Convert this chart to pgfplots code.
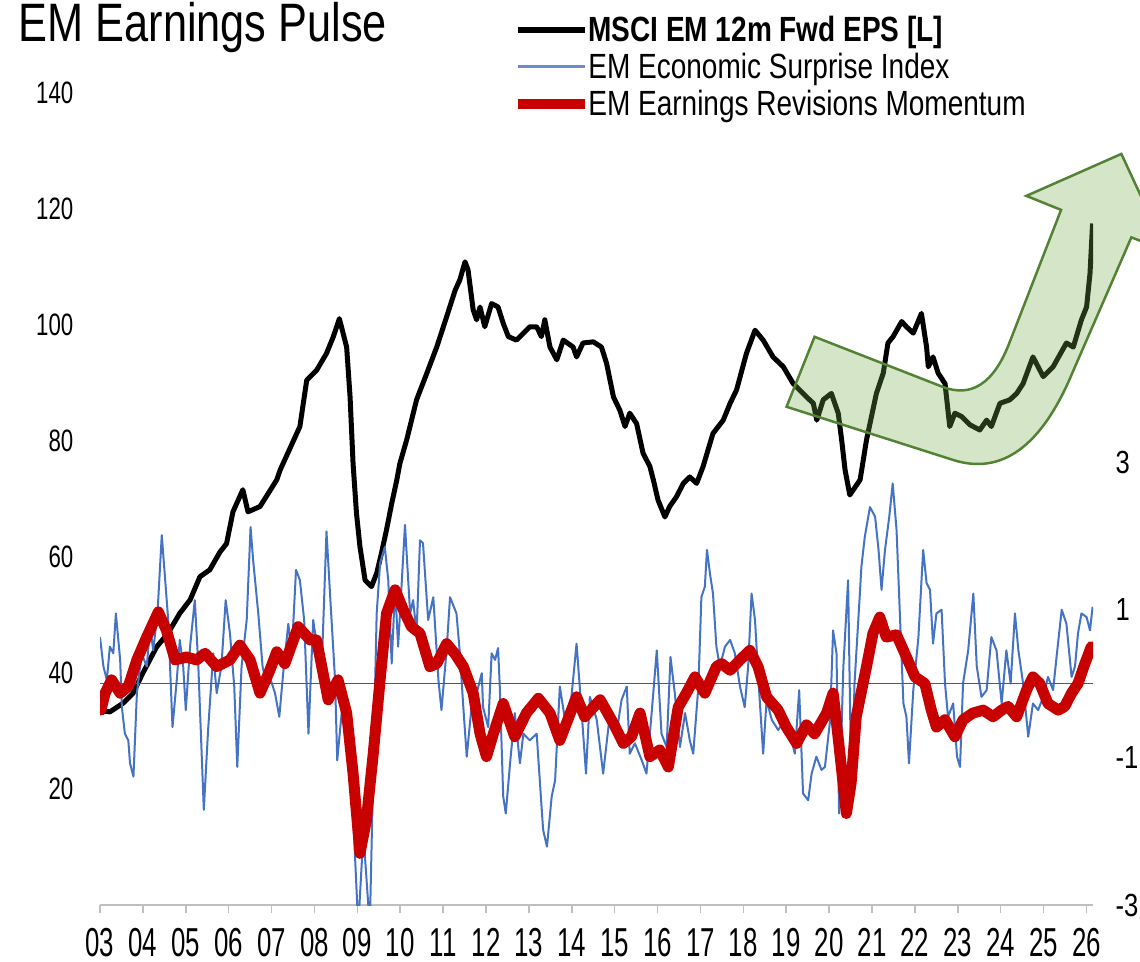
\documentclass[border=0pt]{standalone}
\usepackage{fontspec}
\setmainfont{Liberation Sans}
\newfontfamily\titlefont[FakeStretch=0.8]{Liberation Sans}
\newfontfamily\legfont[FakeStretch=0.8]{Liberation Sans}
\newfontfamily\ytfont[FakeStretch=0.72]{Liberation Sans}
\newfontfamily\xtfont[FakeStretch=0.64]{Liberation Sans}
\newfontfamily\rtfont[FakeStretch=0.8]{Liberation Sans}
\usepackage{pgfplots}
\pgfplotsset{compat=1.18}
\definecolor{surpblue}{RGB}{68,114,196}
\definecolor{revred}{RGB}{200,0,0}
\definecolor{axgrey}{RGB}{191,191,191}
\definecolor{zerogrey}{RGB}{89,89,89}
\definecolor{arrowfill}{RGB}{112,173,71}
\definecolor{arrowdraw}{RGB}{84,130,53}

\pgfplotstableread{
x y
2003.00 33.5
2003.23 33.3
2003.54 34.8
2003.77 36.5
2004.00 40.0
2004.32 44.5
2004.59 46.9
2004.86 50.3
2005.10 52.6
2005.33 56.6
2005.56 57.8
2005.80 60.9
2005.95 62.3
2006.10 67.8
2006.33 71.6
2006.45 67.8
2006.73 68.7
2007.12 73.3
2007.20 75.0
2007.66 82.5
2007.82 90.5
2008.05 92.2
2008.28 95.1
2008.44 98.0
2008.58 101.1
2008.75 96.2
2008.83 87.6
2008.90 76.1
2008.98 67.5
2009.06 61.8
2009.18 56.0
2009.33 54.9
2009.45 57.2
2009.56 60.6
2009.68 64.7
2009.80 69.2
2009.92 73.3
2009.99 76.1
2010.15 80.2
2010.38 87.1
2010.62 91.7
2010.85 96.2
2011.08 101.4
2011.28 106.0
2011.39 107.8
2011.51 110.9
2011.58 109.5
2011.70 102.6
2011.78 100.9
2011.86 103.1
2011.97 99.7
2012.13 103.7
2012.28 103.1
2012.40 100.3
2012.52 98.0
2012.71 97.4
2013.02 99.7
2013.18 99.7
2013.29 98.0
2013.37 100.9
2013.49 96.2
2013.65 94.0
2013.80 97.4
2014.03 96.2
2014.11 94.5
2014.26 96.9
2014.50 97.1
2014.69 96.2
2014.81 93.4
2014.97 87.6
2015.12 85.3
2015.24 82.5
2015.35 84.8
2015.51 83.0
2015.66 77.9
2015.82 75.6
2015.90 73.3
2016.01 69.8
2016.17 66.9
2016.28 68.7
2016.44 70.4
2016.60 72.7
2016.75 73.8
2016.91 72.7
2017.06 75.6
2017.29 81.3
2017.53 83.6
2017.69 86.5
2017.84 88.8
2018.07 95.1
2018.27 99.1
2018.46 97.4
2018.69 94.5
2018.93 92.8
2019.16 89.9
2019.47 87.6
2019.63 86.5
2019.71 83.6
2019.86 87.1
2020.05 88.2
2020.21 84.8
2020.29 80.2
2020.37 75.0
2020.48 70.7
2020.72 73.3
2020.87 80.2
2021.10 88.2
2021.26 91.7
2021.37 96.9
2021.49 98.0
2021.69 100.6
2021.80 99.7
2021.96 98.6
2022.15 102.0
2022.27 96.2
2022.31 92.8
2022.42 94.5
2022.54 91.7
2022.70 89.9
2022.81 82.5
2022.93 84.8
2023.09 84.2
2023.28 82.8
2023.51 81.9
2023.67 83.6
2023.78 82.5
2023.98 86.5
2024.21 87.1
2024.37 88.2
2024.52 89.9
2024.75 94.5
2024.99 91.1
2025.22 92.8
2025.53 96.9
2025.69 96.2
2025.88 100.9
2026.00 103.1
2026.08 108.9
2026.14 117.5
}\epsdata

\pgfplotstableread{
x y
2003.00 0.63
2003.08 0.23
2003.16 0.05
2003.23 0.50
2003.31 0.41
2003.37 0.95
2003.47 0.32
2003.51 -0.32
2003.58 -0.68
2003.66 -0.77
2003.70 -1.08
2003.78 -1.26
2003.86 -0.13
2003.97 0.41
2004.09 0.23
2004.17 0.77
2004.24 0.45
2004.34 0.95
2004.44 2.01
2004.52 1.40
2004.59 0.86
2004.69 -0.59
2004.79 0.05
2004.86 0.59
2004.94 0.23
2005.00 -0.36
2005.10 0.50
2005.21 1.13
2005.29 0.27
2005.42 -1.71
2005.52 -0.63
2005.64 0.41
2005.72 -0.13
2005.83 0.23
2005.93 1.13
2006.03 0.68
2006.13 -0.04
2006.20 -1.13
2006.30 0.23
2006.42 0.86
2006.51 2.12
2006.57 1.67
2006.69 0.95
2006.79 0.23
2006.89 -0.04
2006.98 0.05
2007.08 -0.13
2007.18 -0.45
2007.27 0.14
2007.39 0.81
2007.47 0.41
2007.57 1.54
2007.66 1.40
2007.76 0.86
2007.86 -0.68
2007.97 0.86
2008.05 0.54
2008.17 0.23
2008.28 2.06
2008.38 1.04
2008.48 0.05
2008.53 -1.04
2008.67 -0.18
2008.79 -0.40
2008.90 -1.76
2009.02 -3.3
2009.14 -2.03
2009.29 -3.3
2009.45 0.95
2009.53 1.63
2009.64 1.85
2009.72 1.40
2009.80 0.27
2009.88 1.31
2009.95 0.50
2010.11 2.15
2010.23 0.95
2010.30 1.13
2010.38 0.68
2010.46 1.94
2010.53 1.90
2010.65 0.86
2010.77 1.17
2010.89 0.05
2010.96 -0.36
2011.08 0.45
2011.16 1.17
2011.31 0.95
2011.39 0.41
2011.47 -0.32
2011.55 -0.99
2011.66 -0.32
2011.78 -0.13
2011.90 0.14
2011.93 -0.32
2012.05 -0.59
2012.13 0.41
2012.21 0.32
2012.28 0.48
2012.32 -0.04
2012.40 -1.53
2012.46 -1.76
2012.56 -1.08
2012.67 -0.40
2012.79 -1.08
2012.87 -0.68
2013.02 -0.77
2013.18 -0.68
2013.33 -1.98
2013.42 -2.21
2013.53 -1.53
2013.61 -1.31
2013.72 -0.04
2013.84 -0.49
2013.99 -0.18
2014.11 0.54
2014.23 -0.40
2014.33 -1.22
2014.42 -0.18
2014.58 -0.49
2014.73 -1.22
2014.89 -0.40
2015.04 -0.68
2015.16 -0.22
2015.28 -0.04
2015.35 -0.95
2015.47 -0.81
2015.63 -1.04
2015.74 -1.22
2015.86 -0.40
2015.98 0.45
2016.09 -0.68
2016.21 -0.86
2016.30 0.36
2016.40 -0.13
2016.52 -0.86
2016.64 -0.40
2016.75 -0.77
2016.83 -0.95
2016.95 -0.04
2017.02 1.17
2017.10 1.31
2017.15 1.81
2017.22 1.49
2017.29 1.22
2017.37 0.50
2017.45 0.23
2017.57 0.50
2017.69 0.59
2017.80 0.41
2017.92 -0.04
2018.03 -0.32
2018.11 0.23
2018.19 1.22
2018.27 0.86
2018.35 0.05
2018.46 -0.95
2018.54 -0.22
2018.66 -0.49
2018.81 -0.63
2018.97 -0.49
2019.08 -0.68
2019.20 -0.95
2019.30 -0.09
2019.39 -1.49
2019.51 -1.58
2019.59 -1.22
2019.70 -0.99
2019.82 -1.17
2019.90 -1.13
2020.02 -0.50
2020.09 0.72
2020.17 0.41
2020.23 -1.76
2020.33 0.23
2020.44 1.40
2020.52 -1.60
2020.59 0.00
2020.72 1.27
2020.75 1.58
2020.83 1.99
2020.95 2.39
2021.07 2.26
2021.15 1.81
2021.22 1.27
2021.30 1.81
2021.40 2.26
2021.48 2.71
2021.57 2.08
2021.65 0.90
2021.73 -0.27
2021.80 -0.45
2021.86 -1.08
2021.96 -0.09
2022.08 0.63
2022.19 1.81
2022.27 1.36
2022.35 1.27
2022.42 0.54
2022.50 0.95
2022.62 1.00
2022.70 0.00
2022.77 -0.45
2022.89 -0.27
2022.98 -0.99
2023.05 -1.13
2023.12 0.00
2023.24 0.45
2023.36 1.22
2023.44 0.23
2023.55 -0.18
2023.67 -0.09
2023.78 0.63
2023.90 0.45
2024.02 -0.27
2024.13 0.45
2024.23 0.00
2024.33 0.95
2024.41 0.45
2024.52 0.00
2024.64 -0.72
2024.75 -0.27
2024.87 -0.36
2024.99 -0.18
2025.10 0.09
2025.22 -0.09
2025.30 0.36
2025.42 1.00
2025.53 0.81
2025.65 0.09
2025.73 0.23
2025.80 0.68
2025.88 0.95
2026.00 0.90
2026.08 0.72
2026.14 1.04
}\surpdata

\pgfplotstableread{
x y
2003.02 -0.36
2003.12 -0.13
2003.27 0.05
2003.47 -0.13
2003.66 -0.04
2003.86 0.32
2004.09 0.63
2004.36 0.97
2004.55 0.72
2004.75 0.32
2005.02 0.36
2005.25 0.32
2005.45 0.41
2005.72 0.23
2006.03 0.32
2006.26 0.52
2006.50 0.32
2006.73 -0.13
2006.96 0.18
2007.12 0.43
2007.31 0.27
2007.62 0.77
2007.90 0.59
2008.05 0.59
2008.32 -0.22
2008.55 0.05
2008.75 -0.40
2008.90 -1.22
2009.06 -2.30
2009.21 -1.85
2009.37 -0.95
2009.53 0.05
2009.68 0.95
2009.88 1.27
2010.07 1.00
2010.26 0.77
2010.46 0.68
2010.69 0.23
2010.85 0.27
2011.08 0.54
2011.28 0.40
2011.47 0.23
2011.70 -0.13
2011.86 -0.68
2012.01 -0.99
2012.17 -0.68
2012.40 -0.27
2012.67 -0.72
2012.94 -0.40
2013.22 -0.20
2013.49 -0.40
2013.72 -0.77
2014.11 -0.18
2014.30 -0.45
2014.66 -0.22
2014.97 -0.54
2015.20 -0.81
2015.39 -0.72
2015.59 -0.40
2015.82 -0.99
2016.05 -0.90
2016.25 -1.13
2016.48 -0.32
2016.67 -0.13
2016.87 0.09
2017.10 -0.13
2017.37 0.23
2017.49 0.27
2017.69 0.18
2017.92 0.32
2018.15 0.45
2018.34 0.23
2018.54 -0.18
2018.81 -0.36
2019.00 -0.59
2019.24 -0.81
2019.47 -0.56
2019.66 -0.68
2019.94 -0.40
2020.09 -0.13
2020.12 -0.27
2020.24 -0.90
2020.40 -1.76
2020.51 -1.35
2020.63 -0.45
2020.87 0.23
2021.02 0.68
2021.18 0.90
2021.33 0.63
2021.57 0.66
2021.80 0.36
2022.00 0.09
2022.23 0.00
2022.38 -0.36
2022.50 -0.59
2022.70 -0.49
2022.93 -0.72
2023.12 -0.49
2023.35 -0.40
2023.59 -0.36
2023.82 -0.45
2024.02 -0.36
2024.17 -0.31
2024.37 -0.45
2024.60 -0.09
2024.75 0.09
2024.91 0.00
2025.10 -0.27
2025.34 -0.36
2025.49 -0.31
2025.65 -0.13
2025.80 0.00
2025.96 0.27
2026.11 0.50
}\revdata

\begin{document}
\begin{tikzpicture}
\begin{axis}[
  at={(1cm,-9.05cm)}, anchor=south west,
  scale only axis, width=9.93cm, height=8.12cm,
  xmin=2003, xmax=2026.15, ymin=0, ymax=140,
  axis x line*=bottom, axis y line*=left,
  x axis line style={draw=axgrey, line width=0.02cm, -},
  y axis line style={draw=none},
  xtick={2003,...,2026},
  xticklabels={03,04,05,06,07,08,09,10,11,12,13,14,15,16,17,18,19,20,21,22,23,24,25,26},
  tick align=outside, major tick length=0.08cm,
  x tick style={draw=axgrey, line width=0.015cm},
  ytick={20,40,60,80,100,120,140},
  yticklabels={20,40,60,80,100,120,140},
  y tick style={draw=none},
  xticklabel style={font=\xtfont\fontsize{11.5}{12}\selectfont, inner sep=0pt, anchor=north, yshift=-0.15cm},
  yticklabel style={font=\ytfont\fontsize{8.8}{9}\selectfont, inner sep=0pt, anchor=east, xshift=-0.18cm},
]
\addplot[black, line width=0.05cm, line join=round] table[x=x,y=y] {\epsdata};
\end{axis}
\begin{axis}[
  at={(1cm,-9.05cm)}, anchor=south west,
  scale only axis, width=9.93cm, height=8.12cm,
  xmin=2003, xmax=2026.15, ymin=-3, ymax=8,
  axis x line=none, axis y line*=right,
  y axis line style={draw=none},
  ytick={-3,-1,1,3}, yticklabels={-3,-1,1,3},
  y tick style={draw=none}, major tick length=0pt,
  yticklabel style={font=\rtfont\fontsize{9.1}{10}\selectfont, inner sep=0pt, anchor=west, xshift=0.22cm},
]
\addplot[surpblue, line width=0.02cm, line join=round] table[x=x,y=y] {\surpdata};
\addplot[zerogrey, line width=0.012cm] coordinates {(2003,0) (2026.15,0)};
\addplot[revred, line width=0.11cm, line join=round, line cap=round] table[x=x,y=y] {\revdata};
\end{axis}
\begin{scope}[x=0.01cm, y=-0.01cm]
  % title
  \node[anchor=base west, inner sep=0pt] at (18,42) {\titlefont\fontsize{15.4}{18}\selectfont EM Earnings Pulse};
  % legend
  \draw[black, line width=0.06cm] (518,30) -- (585,30);
  \node[anchor=base west, inner sep=0pt] at (588,42) {\legfont\bfseries\fontsize{9.96}{11}\selectfont MSCI EM 12m Fwd EPS [L]};
  \draw[surpblue!80!white, line width=0.03cm] (518,67) -- (585,67);
  \node[anchor=base west, inner sep=0pt] at (588,79) {\legfont\fontsize{9.96}{11}\selectfont EM Economic Surprise Index};
  \draw[revred, line width=0.1cm] (518,104) -- (585,104);
  \node[anchor=base west, inner sep=0pt] at (588,116) {\legfont\fontsize{9.96}{11}\selectfont EM Earnings Revisions Momentum};
  % annotation arrow
  \draw[draw=arrowdraw, line width=0.025cm, fill=arrowfill, fill opacity=0.3, line join=miter]
    (815,337) -- (943,387) .. controls (972,398.3) and (994.4,383.6) .. (1010,343)
    -- (1061.7,210) -- (1027,196) -- (1122,154) -- (1167,251) -- (1132,237.5)
    -- (1073,373) .. controls (1042,447) and (1002,476) .. (953,460)
    -- (787,407) -- cycle;
\end{scope}
\pgfresetboundingbox
\useasboundingbox (0,0) rectangle (11.4cm,-9.61cm);
\end{tikzpicture}
\end{document}
